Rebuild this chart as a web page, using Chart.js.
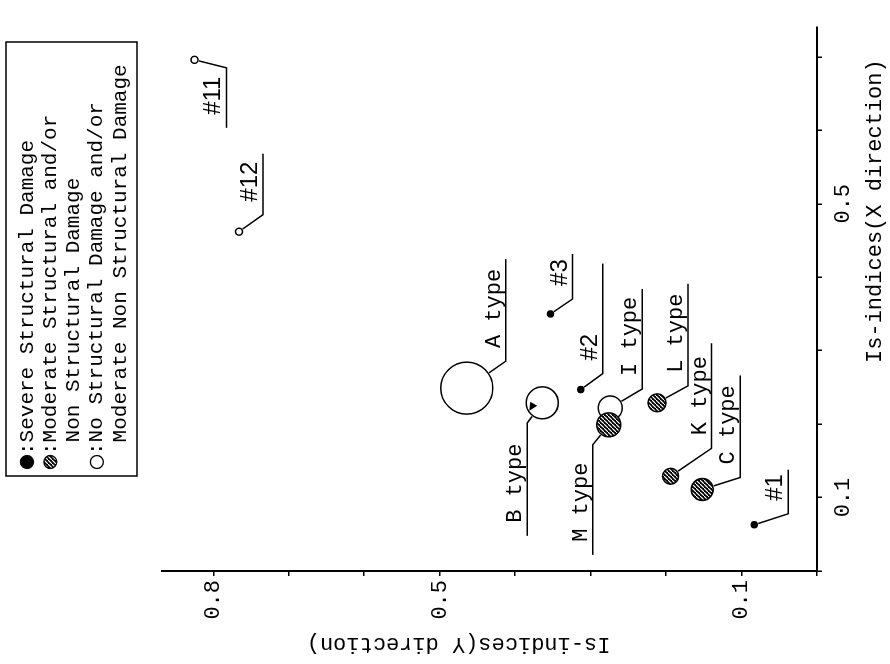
<!DOCTYPE html>
<html>
<head>
<meta charset="utf-8">
<script src="https://cdn.jsdelivr.net/npm/chart.js@4.4.0/dist/chart.umd.min.js"></script>
<style>
  html, body { margin: 0; padding: 0; background: #fff; overflow: hidden; }
  /* the figure is printed sideways: draw it upright, then turn it a quarter left */
  #wrap {
    position: absolute; left: 0; top: 0;
    width: 664px; height: 890px;
    transform-origin: 0 0;
    transform: translateY(664px) rotate(-90deg);
  }
</style>
</head>
<body>
<div id="wrap"><canvas id="chart" width="664" height="890"></canvas></div>
<script>
// ---- data ----
const names  = ["#1", "#2", "#3", "#11", "#12", "A type", "B type", "I type", "M type", "L type", "K type", "C type"];
const isX    = [0.063, 0.247, 0.350, 0.696, 0.462, 0.249, 0.229, 0.222, 0.199, 0.229, 0.129, 0.111];
const isY    = [0.083, 0.313, 0.353, 0.825, 0.766, 0.464, 0.364, 0.274, 0.276, 0.212, 0.194, 0.152];
const damage = ["severe", "severe", "severe", "none", "none", "none", "none", "none", "moderate", "moderate", "moderate", "moderate"];

const xTickLabels = [0.1, 0.5];
const yTickLabels = [0.1, 0.5, 0.8];
const xTitle = "Is-indices(X direction)";
const yTitle = "Is-indices(Y direction)";

const legendRows = [
  ["severe", ":Severe Structural Damage"],
  ["moderate", ":Moderate Structural and/or"],
  [null, "Non Structural Damage"],
  ["none", ":No Structural Damage and/or"],
  [null, "Moderate Non Structural Damage"]
];

// ---- styles ----
const canvas = document.getElementById("chart");
const MONO = '"Liberation Mono", "DejaVu Sans Mono", monospace';
const SANS = '"Liberation Sans", Arial, sans-serif';

const hatch = (() => {
  const c = document.createElement("canvas");
  c.width = 4; c.height = 4;
  const g = c.getContext("2d");
  g.fillStyle = "#000";
  g.fillRect(0, 0, 4, 4);
  g.strokeStyle = "#fff";
  g.lineWidth = 1.2;
  g.beginPath();
  g.moveTo(-1, 5); g.lineTo(5, -1);
  g.stroke();
  return canvas.getContext("2d").createPattern(c, "repeat");
})();

const damageStyle = {
  severe:   { fill: "#000", border: "#000" },
  moderate: { fill: hatch,  border: "#000" },
  none:     { fill: "#fff", border: "#000" }
};
const markerRadius = [3, 3, 3, 3.5, 3.5, 26, 16, 12, 12, 9, 8, 11];

// label placement: leader end offset from point (px), underline length, side of underline
const labelLayout = [
  [11, 34, 44, 1],
  [16, 22, 110, 1],
  [15, 22, 45, 1],
  [-8, 32, 60, -1],
  [17, 24, 61, 1],
  [27, 39, 102, 1],
  [-20, -15, 113, -1],
  [19, 32, 100, 1],
  [-20, -16, 110, -1],
  [17, 31, 102, 1],
  [28, 41, 105, 1],
  [12, 38, 102, 1]
];

function datasetFor(kind) {
  const idx = names.map((n, i) => i).filter(i => damage[i] === kind);
  return {
    label: kind,
    data: idx.map(i => ({ x: isX[i], y: isY[i] })),
    pointRadius: idx.map(i => markerRadius[i]),
    pointBackgroundColor: damageStyle[kind].fill,
    pointBorderColor: damageStyle[kind].border,
    pointBorderWidth: 1.5,
    showLine: false
  };
}

function near(v, list) {
  return list.some(t => Math.abs(t - v) < 1e-6);
}

const labelsPlugin = {
  id: "pointLabels",
  afterDatasetsDraw(chart) {
    const { ctx, scales: { x, y } } = chart;
    ctx.save();
    ctx.strokeStyle = "#000";
    ctx.fillStyle = "#000";
    ctx.lineWidth = 1.5;
    ctx.textBaseline = "alphabetic";
    ctx.textAlign = "left";
    names.forEach((name, i) => {
      const px = x.getPixelForValue(isX[i]);
      const py = y.getPixelForValue(isY[i]);
      const [dx, dy, len, side] = labelLayout[i];
      const ax = px + dx, ay = py + dy;
      const d = Math.hypot(dx, dy);
      const r = markerRadius[i] + 1;
      ctx.beginPath();
      ctx.moveTo(px + dx / d * r, py + dy / d * r);
      ctx.lineTo(ax, ay);
      ctx.lineTo(ax + side * len, ay);
      ctx.stroke();
      const left = Math.min(ax, ax + side * len);
      ctx.font = name.startsWith("#") ? "24px " + SANS : "22px " + MONO;
      ctx.fillText(name, left + 13, ay - 6);
      // B type is drawn with a small black wedge inside the ring
      if (name === "B type") {
        ctx.beginPath();
        ctx.moveTo(px - 8, py - 13);
        ctx.lineTo(px + 1, py - 12);
        ctx.lineTo(px - 3, py - 5);
        ctx.closePath();
        ctx.fill();
      }
    });
    ctx.restore();
  }
};

const framePlugin = {
  id: "frameText",
  afterDraw(chart) {
    const { ctx, scales: { x, y } } = chart;
    ctx.save();
    ctx.fillStyle = "#000";
    ctx.strokeStyle = "#000";
    // axis titles
    ctx.font = "22px " + MONO;
    ctx.textAlign = "center";
    ctx.textBaseline = "middle";
    ctx.fillText(xTitle, x.getPixelForValue(0.49), x.bottom - 15);
    ctx.save();
    ctx.translate(y.left + 20, y.getPixelForValue(0.475));
    ctx.rotate(-Math.PI / 2);
    ctx.fillText(yTitle, 0, 0);
    ctx.restore();

    // legend box
    const bx = 188, by = 6, bw = 434, bh = 131;
    ctx.lineWidth = 1.5;
    ctx.strokeRect(bx, by, bw, bh);
    ctx.font = "21px " + MONO;
    ctx.textAlign = "left";
    const sx = bx + 14;
    const colon = ctx.measureText(":").width;
    legendRows.forEach(([kind, text], k) => {
      const ry = by + 21 + k * 23.3;
      if (kind) {
        ctx.beginPath();
        ctx.arc(sx, ry, 6.5, 0, Math.PI * 2);
        ctx.fillStyle = damageStyle[kind].fill;
        ctx.fill();
        ctx.lineWidth = 1.3;
        ctx.stroke();
        ctx.fillStyle = "#000";
        ctx.fillText(text, sx + 7, ry);
      } else {
        ctx.fillText(text, sx + 7 + colon, ry);
      }
    });
    ctx.restore();
  }
};

const axisStyle = (labels, pad) => ({
  type: "linear",
  ticks: {
    stepSize: 0.1,
    includeBounds: false,
    autoSkip: false,
    maxRotation: 0,
    minRotation: 0,
    padding: pad,
    color: "#000",
    font: { family: MONO, size: 22 },
    callback: v => (near(v, labels) ? v.toFixed(1) : "")
  },
  grid: { drawOnChartArea: false, drawTicks: true, tickLength: 5, color: "#000", lineWidth: 1.5 },
  border: { display: true, color: "#000", width: 2 }
});

new Chart(canvas, {
  type: "scatter",
  data: { datasets: ["moderate", "none", "severe"].map(datasetFor) },
  options: {
    responsive: false,
    animation: false,
    events: [],
    layout: { padding: { top: 162, right: 8, left: 0, bottom: 0 } },
    scales: {
      x: Object.assign(axisStyle(xTickLabels, 8), {
        min: 0, max: 0.74, position: "bottom",
        afterFit: s => { s.height = 73; }
      }),
      y: Object.assign(axisStyle(yTickLabels, 4), {
        min: 0, max: 0.868, position: "left",
        afterFit: s => { s.width = 93; }
      })
    },
    plugins: { legend: { display: false }, tooltip: { enabled: false } }
  },
  plugins: [labelsPlugin, framePlugin]
});
</script>
</body>
</html>
